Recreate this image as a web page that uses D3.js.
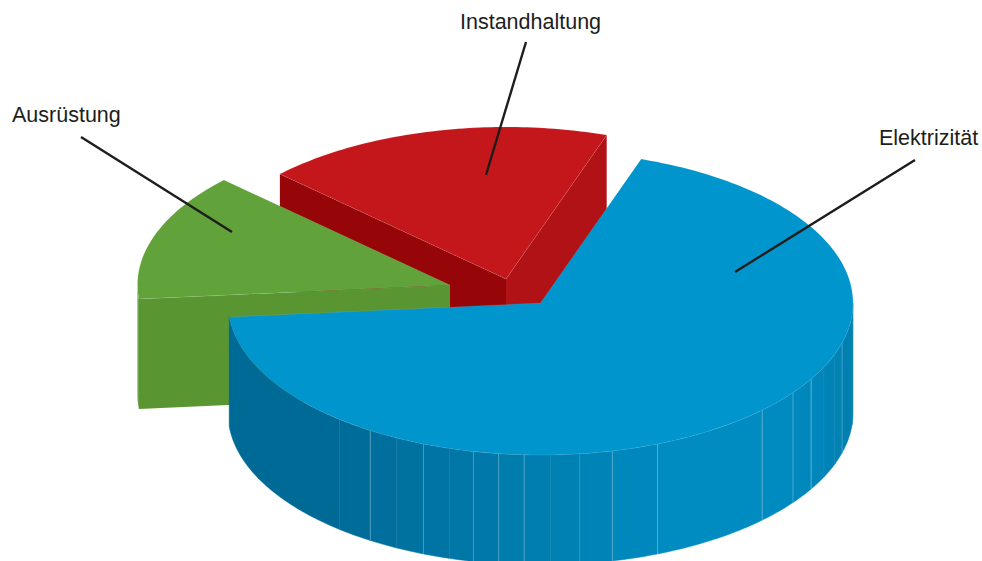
<!DOCTYPE html>
<html>
<head>
<meta charset="utf-8">
<title>Kostenanteile</title>
<script src="https://cdnjs.cloudflare.com/ajax/libs/d3/7.8.5/d3.min.js"></script>
<style>
    html, body { margin: 0; padding: 0; background: #fff; }
    svg { display: block; }
    text { font-family: "Liberation Sans", Arial, sans-serif; font-size: 21.5px; fill: #1d1d1b; }
</style>
</head>
<body>
<div id="chart"></div>
<script>
//数据 (share of the pie, clockwise from the red/blue cut)
let categories = ['Elektrizität', 'Ausrüstung', 'Instandhaltung'];
let shares = [68.3, 13.6, 18.1];
//blue outer wall facets: boundary angles in degrees, and the shade and edge strength of each
let facetAngles = [265, 220, 213, 207.4, 202, 197, 192.4, 187.7, 183, 178.2, 172.8, 166.7, 158, 134.8, 126.1, 120, 114.9, 109.6, 105.2, 94.4, 90];
let facetShades = ['#006a96', '#006c99', '#006f9d', '#0072a0', '#0074a4', '#0077a7', '#0079aa', '#007cad', '#007eb0', '#0081b3',
    '#0084b7', '#0088bc', '#008cc1', '#008bc0', '#0088bd', '#0086ba', '#0084b7', '#0082b3', '#0080b0', '#007dad'];
let facetEdges = [0.04, 0.35, 0.04, 0.3, 0.04, 0.3, 0.3, 0.35, 0.04, 0.15, 0.35, 0.35, 0.35, 0.35, 0.4, 0.06, 0.06, 0.3, 0.1];

let width = 982, height = 561;
let rx = 312.5, ry = 152, depth = 110;
let startDeg = 18.8;

let styles = {
    'Elektrizität': { cx: 540.5, cy: 303, top: '#0095cd', start: '#0089bd', end: '#0089bd', wall: '#007dad' },
    'Ausrüstung': { cx: 450, cy: 285, top: '#61a23a', start: '#599632', end: '#599632', wall: '#599632' },
    'Instandhaltung': { cx: 506, cy: 279, top: '#c4171c', start: '#960508', end: '#b01215', wall: '#960508' }
};
//leader lines: label anchor, line start, line end
let leaders = [
    { name: 'Elektrizität', tx: 879, ty: 145, x1: 915, y1: 160, x2: 735, y2: 272 },
    { name: 'Ausrüstung', tx: 12, ty: 122, x1: 81, y1: 137, x2: 232, y2: 232 },
    { name: 'Instandhaltung', tx: 460, ty: 29, x1: 526, y1: 42, x2: 486, y2: 175 }
];

let svg = d3.select('#chart').append('svg')
    .attr('width', width)
    .attr('height', height)
    .attr('viewBox', '0 0 ' + width + ' ' + height);

let pie = d3.pie()
    .sort(null)
    .startAngle(startDeg * Math.PI / 180)
    .endAngle((startDeg + 360) * Math.PI / 180);
let slices = pie(shares).map(function (d, i) {
    return { name: categories[i], a0: d.startAngle, a1: d.endAngle, style: styles[categories[i]] };
});

//0 is at the top, going clockwise, same as d3.arc
let project = function (s, a, drop) {
    return [s.style.cx + rx * Math.sin(a), s.style.cy - ry * Math.cos(a) + (drop || 0)];
};
let rad = function (deg) {
    return deg * Math.PI / 180;
};
let line = d3.line();

let arcPoints = function (s, a0, a1, drop) {
    let n = Math.max(2, Math.ceil(Math.abs(a1 - a0) / rad(1)));
    return d3.range(n + 1).map(function (i) {
        return project(s, a0 + (a1 - a0) * i / n, drop);
    });
};
let wallPath = function (s, a0, a1) {
    let pts = arcPoints(s, a0, a1, 0).concat(arcPoints(s, a1, a0, depth));
    return line(pts) + 'Z';
};
let cutPath = function (s, a) {
    let apex = [s.style.cx, s.style.cy];
    let rim = project(s, a);
    return line([apex, rim, [rim[0], rim[1] + depth], [apex[0], apex[1] + depth]]) + 'Z';
};
let topPath = function (s) {
    let apex = [s.style.cx, s.style.cy];
    return line([apex].concat(arcPoints(s, s.a0, s.a1, 0))) + 'Z';
};

//back to front: red, green, blue
let order = ['Instandhaltung', 'Ausrüstung', 'Elektrizität'];
order.forEach(function (name) {
    let s = slices.filter(function (d) { return d.name === name; })[0];
    let g = svg.append('g');

    //cut faces that look at the viewer
    if (Math.sin(s.a0) < 0) {
        g.append('path').attr('d', cutPath(s, s.a0)).style('fill', s.style.start);
    }
    if (Math.sin(s.a1) > 0) {
        g.append('path').attr('d', cutPath(s, s.a1)).style('fill', s.style.end);
    }

    if (name === 'Elektrizität') {
        g.selectAll('path.facet')
            .data(facetShades)
            .enter()
            .append('path')
            .attr('class', 'facet')
            .attr('d', function (d, i) {
                return wallPath(s, rad(facetAngles[i]), rad(facetAngles[i + 1]));
            })
            .style('fill', function (d) { return d; })
            .style('stroke', function (d) { return d; })
            .style('stroke-width', 0.5);
        g.selectAll('line.edge')
            .data(facetEdges)
            .enter()
            .append('line')
            .attr('class', 'edge')
            .attr('x1', function (d, i) { return project(s, rad(facetAngles[i + 1]))[0]; })
            .attr('x2', function (d, i) { return project(s, rad(facetAngles[i + 1]))[0]; })
            .attr('y1', function (d, i) { return project(s, rad(facetAngles[i + 1]))[1]; })
            .attr('y2', function (d, i) { return project(s, rad(facetAngles[i + 1]), depth)[1]; })
            .style('stroke', '#fff')
            .style('stroke-width', 0.8)
            .style('stroke-opacity', function (d) { return d; });
    } else if (name === 'Ausrüstung') {
        //small piece of outer wall left of the cut
        g.append('path').attr('d', wallPath(s, s.a0, rad(270))).style('fill', s.style.wall);
    }

    g.append('path')
        .attr('d', topPath(s))
        .style('fill', s.style.top)
        .style('stroke', '#fff')
        .style('stroke-opacity', 0.15)
        .style('stroke-width', 0.6)
        .style('stroke-linejoin', 'round');
});

//labels
svg.selectAll('line.leader')
    .data(leaders)
    .enter()
    .append('line')
    .attr('class', 'leader')
    .attr('x1', function (d) { return d.x1; })
    .attr('y1', function (d) { return d.y1; })
    .attr('x2', function (d) { return d.x2; })
    .attr('y2', function (d) { return d.y2; })
    .style('stroke', '#1d1d1b')
    .style('stroke-width', 2.4);

svg.selectAll('text.label')
    .data(leaders)
    .enter()
    .append('text')
    .attr('class', 'label')
    .attr('x', function (d) { return d.tx; })
    .attr('y', function (d) { return d.ty; })
    .text(function (d) { return d.name; });
</script>
</body>
</html>
